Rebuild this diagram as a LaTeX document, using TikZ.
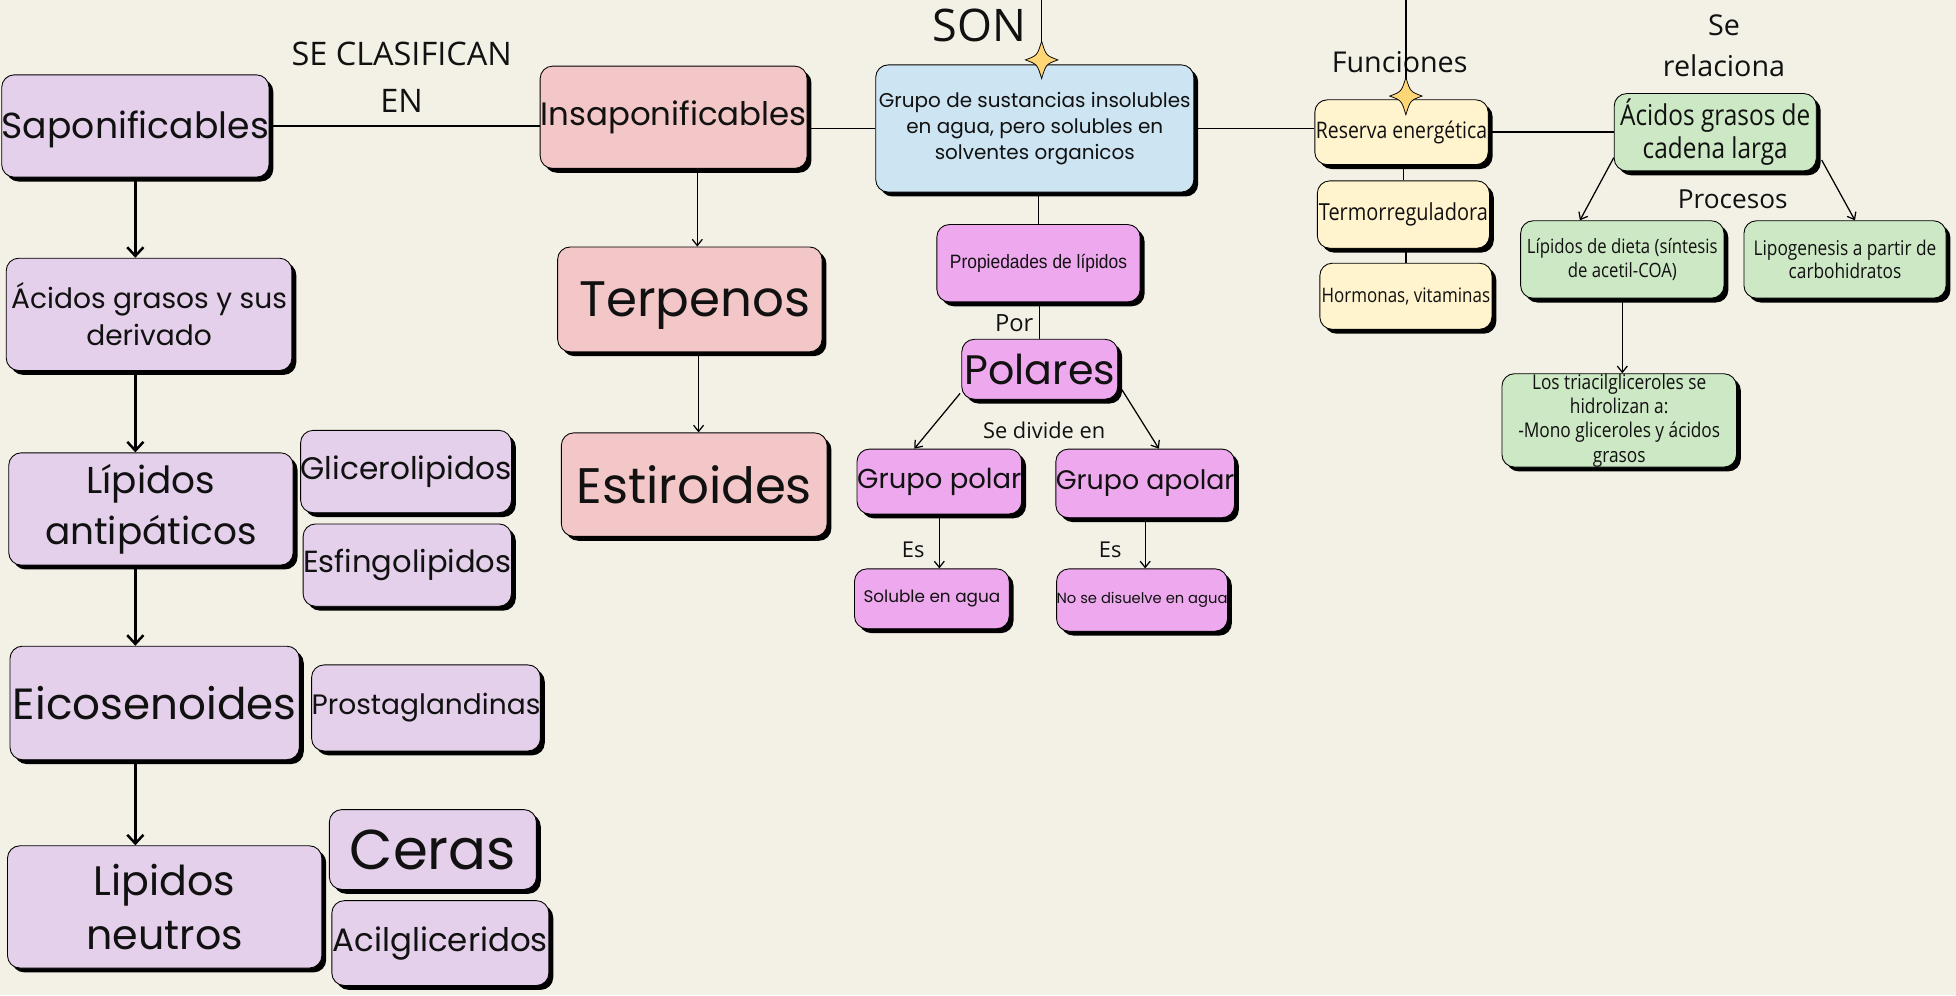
\documentclass[tikz,border=0pt]{standalone}
\usepackage{fontspec}
\setmainfont{Poppins}
\newfontfamily\pop{Poppins}
\newfontfamily\osans{Open Sans}
\newfontfamily\osc{Open Sans}[FakeStretch=0.85]
\newfontfamily\arl{Liberation Sans}[FakeStretch=0.9]
\usetikzlibrary{arrows.meta,shadows}
\definecolor{bg}{HTML}{F3F1E6}
\definecolor{lil}{HTML}{E4D0EA}
\definecolor{pnk}{HTML}{F3C7C7}
\definecolor{blu}{HTML}{CDE4F2}
\definecolor{mag}{HTML}{EEA8EE}
\definecolor{yel}{HTML}{FFF4CD}
\definecolor{grn}{HTML}{CDE8C4}
\definecolor{starc}{HTML}{FFD675}
\definecolor{txt}{HTML}{111111}
\newcommand{\fsz}[2]{\fontsize{#1}{#2}\selectfont}
\tikzset{
  box/.style={draw=black, line width=0.7pt, rounded corners=10pt, align=center, inner sep=0pt, text=txt,
    drop shadow={fill=black, opacity=1, shadow xshift=3.5pt, shadow yshift=-3.5pt}},
  lbl/.style={align=center, inner sep=0pt, text=txt},
  plain/.style={draw=black, line width=1.2pt},
  thinline/.style={draw=black, line width=1pt},
  bigarr/.style={draw=black, line width=2pt, -{Straight Barb[length=7pt,width=13pt,line width=2pt]}},
  arr/.style={draw=black, line width=1pt, -{Straight Barb[length=5pt,width=8pt]}},
  pics/sparkle/.style={code={\filldraw[fill=starc, draw=black, line width=0.6pt]
    (0,-15) .. controls (3.5,-3.5) .. (13,0) .. controls (3.5,3.5) .. (0,15)
    .. controls (-3.5,3.5) .. (-13,0) .. controls (-3.5,-3.5) .. cycle;}}
}
\begin{document}
\begin{tikzpicture}[x=1pt,y=-1pt]
\useasboundingbox (0,0) rectangle (1568,798);
\fill[bg] (0,0) rectangle (1568,798);

% ---------- left column ----------
\node[box, fill=lil, minimum width=213pt, minimum height=82pt, text depth=2pt, font=\pop\fsz{29}{35}] (sap) at (108.5,101) {Saponificables};
\node[box, fill=lil, minimum width=229pt, minimum height=90pt, font=\pop\fsz{22.5}{30}] (acid) at (119.5,252) {Ácidos grasos y sus\\derivado};
\node[box, fill=lil, minimum width=228pt, minimum height=90pt, font=\pop\fsz{30}{41}] (lant) at (121,408) {Lípidos\\antipáticos};
\node[box, fill=lil, minimum width=169pt, minimum height=66pt, font=\pop\fsz{25}{30}] (glic) at (325.5,378) {Glicerolipidos};
\node[box, fill=lil, minimum width=167pt, minimum height=66pt, font=\pop\fsz{24.5}{30}] (esfi) at (326.5,453) {Esfingolipidos};
\node[box, fill=lil, minimum width=232pt, minimum height=91pt, font=\pop\fsz{35}{40}] (eico) at (124,563.5) {Eicosenoides};
\node[box, fill=lil, minimum width=177pt, minimum height=69pt, font=\pop\fsz{22.5}{28}] (pros) at (341.5,567.5) {Prostaglandinas};
\node[box, fill=lil, minimum width=252pt, minimum height=98pt, font=\pop\fsz{33}{43}] (lneu) at (132,727) {Lipidos\\neutros};
\node[box, fill=lil, minimum width=166pt, minimum height=64pt, font=\pop\fsz{45}{50}] (cera) at (347,681) {Ceras};
\node[box, fill=lil, minimum width=174pt, minimum height=68pt, font=\pop\fsz{26}{30}] (acil) at (353,756) {Acilgliceridos};

% ---------- middle ----------
\node[box, fill=pnk, minimum width=214pt, minimum height=82pt, font=\pop\fsz{26}{30}] (insap) at (540,94) {Insaponificables};
\node[box, fill=pnk, minimum width=212pt, minimum height=84pt, text depth=0pt, font=\pop\fsz{40}{45}] (terp) at (553,240) {\hspace*{8pt}Terpenos};
\node[box, fill=pnk, minimum width=213pt, minimum height=83pt, font=\pop\fsz{40}{45}] (esti) at (556.5,388.5) {Estiroides};
\node[box, fill=blu, minimum width=255pt, minimum height=102pt, font=\pop\fsz{16}{21}] (grupo) at (829.5,103) {Grupo de sustancias insolubles\\en agua, pero solubles en\\solventes organicos};
\node[box, fill=mag, minimum width=163pt, minimum height=62pt, font=\arl\fsz{15.5}{18}] (prop) at (832.5,211) {Propiedades de lípidos};
\node[box, fill=mag, minimum width=125pt, minimum height=48pt, font=\pop\fsz{33}{38}] (pola) at (833.5,296) {Polares};
\node[box, fill=mag, minimum width=132pt, minimum height=52pt, font=\pop\fsz{22}{26}] (gpol) at (753,386) {Grupo polar};
\node[box, fill=mag, minimum width=138pt, minimum height=55pt, font=\pop\fsz{21.5}{26}] (gapo) at (918,387.5) {Grupo apolar};
\node[box, fill=mag, minimum width=124pt, minimum height=48pt, font=\pop\fsz{13.5}{16}] (solu) at (747,480) {Soluble en agua};
\node[box, fill=mag, minimum width=129pt, minimum height=50pt, font=\pop\fsz{11.8}{14}] (nose) at (915.5,481) {No se disuelve en agua};

% ---------- right ----------
\node[box, fill=yel, minimum width=139pt, minimum height=52pt, font=\osc\fsz{18.3}{20}] (rese) at (1123.5,106) {Reserva energética};
\node[box, fill=yel, minimum width=138pt, minimum height=54pt, font=\osc\fsz{18.8}{20}] (term) at (1125,172) {Termorreguladora};
\node[box, fill=yel, minimum width=138pt, minimum height=53pt, font=\osc\fsz{16}{18}] (horm) at (1127,237.5) {Hormonas, vitaminas};
\node[box, fill=grn, minimum width=162pt, minimum height=62pt, font=\osc\fsz{23}{27}] (acg) at (1375,106) {Ácidos grasos de\\cadena larga};
\node[box, fill=grn, minimum width=163pt, minimum height=62pt, font=\osc\fsz{15.8}{19}] (ldie) at (1300.5,208) {Lípidos de dieta (síntesis\\de acetil-COA)};
\node[box, fill=grn, minimum width=162pt, minimum height=62pt, font=\osc\fsz{16.3}{19}] (lipo) at (1479,208) {Lipogenesis a partir de\\carbohidratos};
\node[box, fill=grn, minimum width=188pt, minimum height=74pt, font=\osc\fsz{16.3}{19.5}] (tria) at (1298,337) {Los triacilgliceroles se\\hidrolizan a:\\-Mono gliceroles y ácidos\\grasos};

% ---------- labels ----------
\node[lbl, font=\osans\fsz{26}{38}] (secl) at (322,62) {SE CLASIFICAN\\EN};
\node[lbl, font=\osans\fsz{36}{40}] (son) at (785,20) {SON};
\node[lbl, font=\osans\fsz{23}{26}] (func) at (1122,50) {Funciones};
\node[lbl, font=\osans\fsz{23}{33}] (srel) at (1382,37) {Se\\relaciona};
\node[lbl, font=\osans\fsz{21}{24}] (proc) at (1389,160) {Procesos};
\node[lbl, font=\osans\fsz{19}{22}] (por) at (813,259) {Por};
\node[lbl, font=\osans\fsz{17.5}{20}] (sdiv) at (837,345) {Se divide en};
\node[lbl, font=\osans\fsz{17.5}{20}] (es1) at (732,441) {Es};
\node[lbl, font=\osans\fsz{17.5}{20}] (es2) at (890,441) {Es};

% ---------- connectors ----------
\draw[plain] (sap.east) -- (sap.east -| insap.west);
\draw[plain] (grupo.west) -- (grupo.west -| insap.east);
\draw[plain] (grupo.east) -- (grupo.east -| rese.west);
\draw[plain] (rese.east) -- (rese.east -| acg.west);

\draw[bigarr] (sap.south) -- (sap.south |- acid.north);
\draw[bigarr] (acid.south -| sap.south) -- (lant.north -| sap.south);
\draw[bigarr] (lant.south -| sap.south) -- (eico.north -| sap.south);
\draw[bigarr] (eico.south -| sap.south) -- (lneu.north -| sap.south);

\draw[arr] ([xshift=19pt]insap.south) -- ([xshift=19pt]insap.south |- terp.north);
\draw[arr] ([xshift=7pt]terp.south) -- ([xshift=7pt]terp.south |- esti.north);

\draw[thinline] (prop.north) -- (prop.north |- grupo.south);
\draw[thinline] (pola.north) -- (pola.north |- prop.south);
\draw[arr] ([xshift=-1pt,yshift=5pt]pola.south west) -- ([xshift=-20pt]gpol.north);
\draw[arr] ([xshift=3pt,yshift=8pt]pola.south east) -- ([xshift=11pt]gapo.north);
\draw[arr] (gpol.south) -- (gpol.south |- solu.north);
\draw[arr] (gapo.south) -- (gapo.south |- nose.north);

\draw[thinline] (term.north) -- (term.north |- rese.south);
\draw[thinline] (horm.north) -- (horm.north |- term.south);

\draw[arr] ([yshift=11pt]acg.south west) -- ([xshift=-34pt]ldie.north);
\draw[arr] ([xshift=4pt,yshift=9pt]acg.south east) -- ([xshift=8pt]lipo.north);
\draw[arr] (ldie.south) -- (ldie.south |- tria.north);

% top lines and sparkles
\coordinate (top1) at (835,0);
\coordinate (star1) at (835,48);
\coordinate (top2) at (1127,0);
\coordinate (star2) at (1127,77);
\draw[thinline] (top1) -- (star1);
\draw[thinline] (top2) -- (star2);
\pic at (star1) {sparkle};
\pic at (star2) {sparkle};
\end{tikzpicture}
\end{document}
